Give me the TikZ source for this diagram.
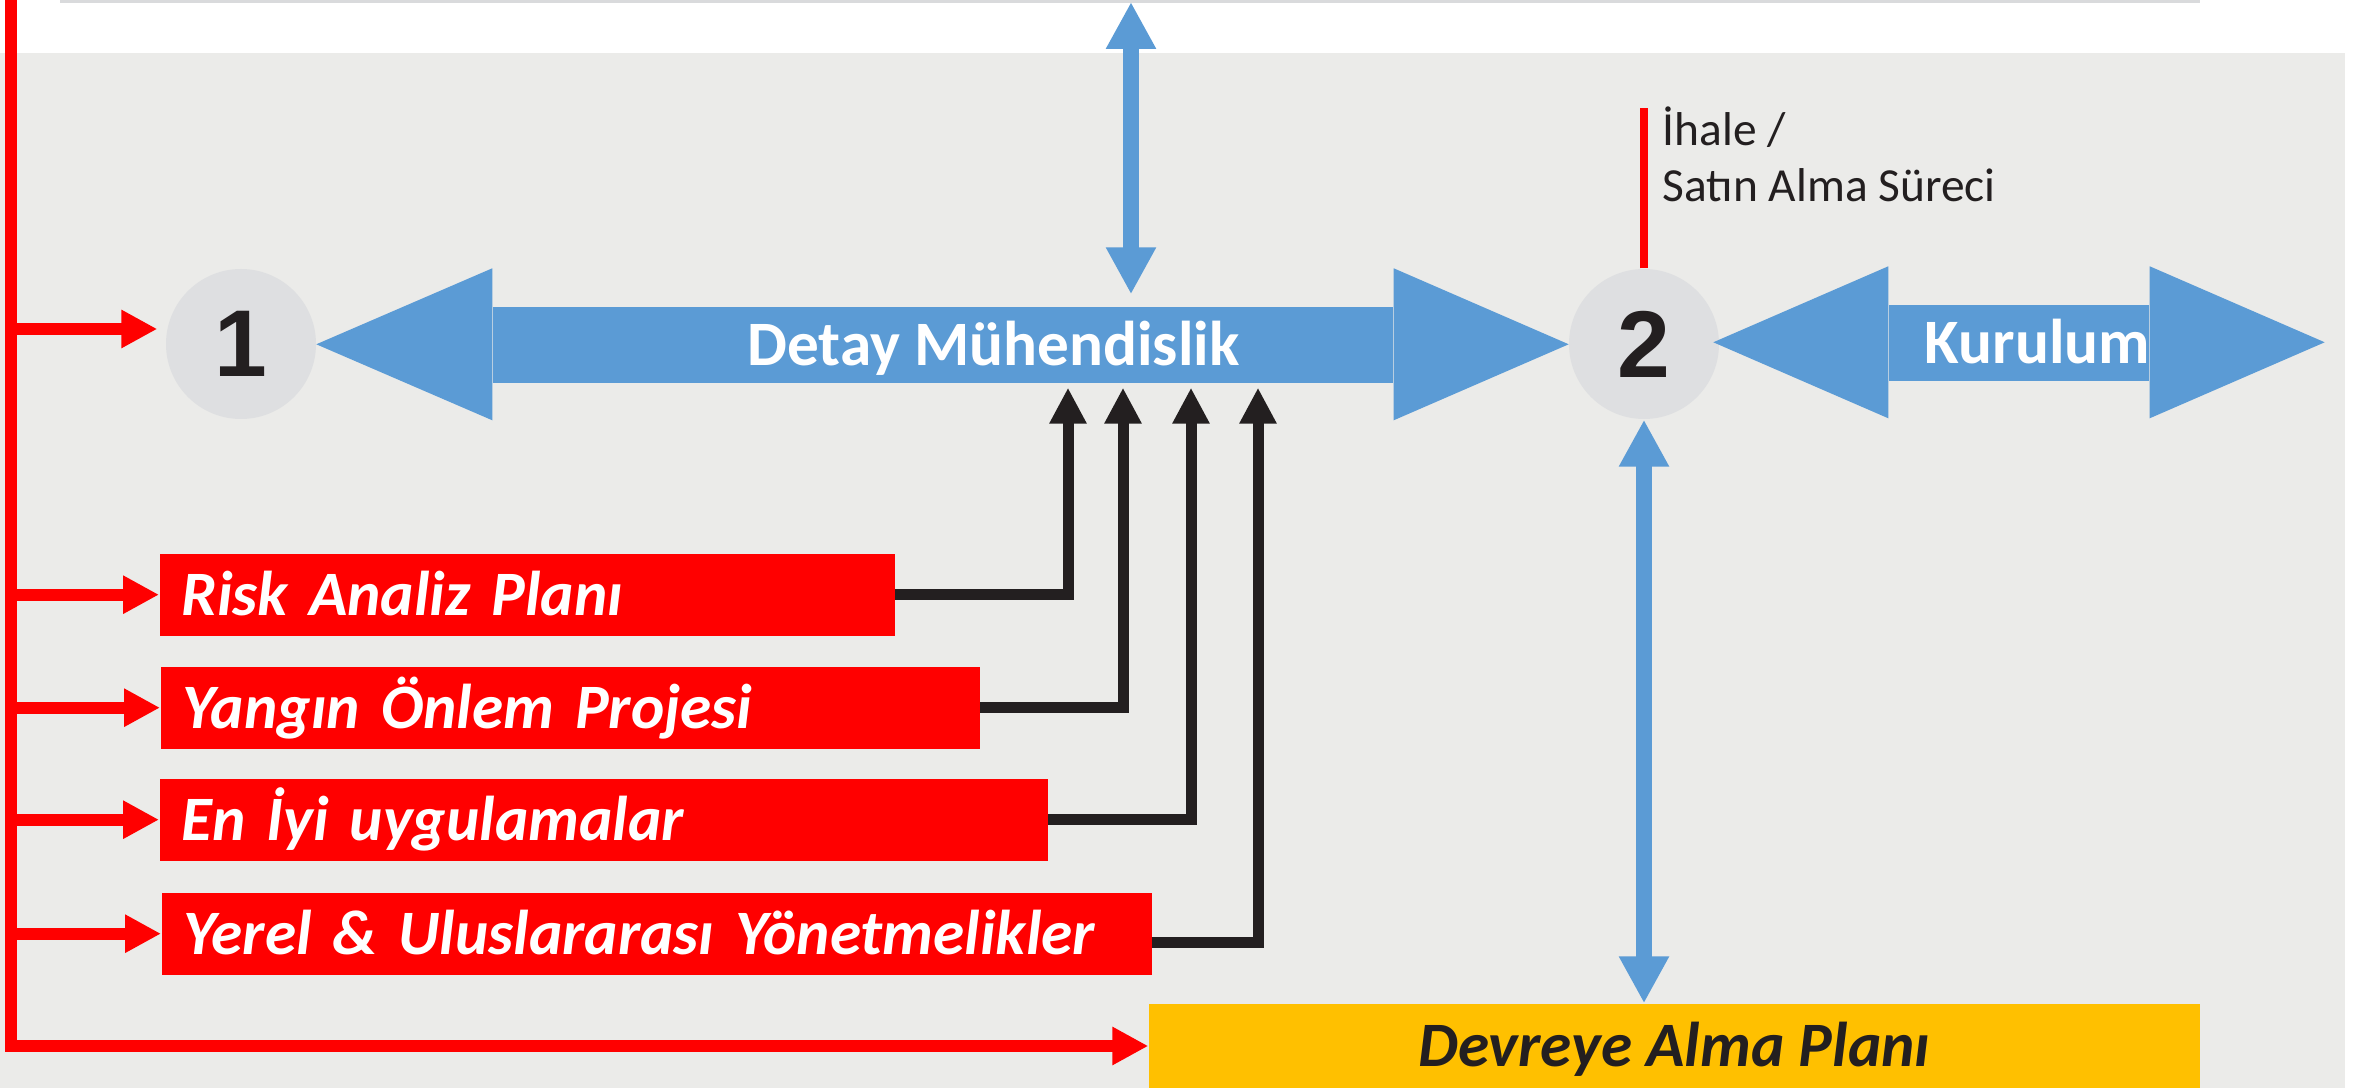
\documentclass[tikz,border=0pt]{standalone}
\usepackage{fontspec}
\setmainfont{Carlito}
\newfontfamily\cijferfont{Liberation Sans}
\usetikzlibrary{arrows.meta}

\definecolor{blauw}{HTML}{5B9BD5}
\definecolor{rood}{HTML}{FF0000}
\definecolor{zwart}{HTML}{231F20}
\definecolor{achtergrond}{HTML}{EBEBE9}
\definecolor{cirkel}{HTML}{DEDFE1}
\definecolor{geel}{HTML}{FFC000}
\definecolor{rand}{HTML}{D9DADC}

\begin{document}
\begin{tikzpicture}
            % Stijlen
            \tikzset{
                rodepijl/.style={-{Triangle[length=0.36cm, width=0.36cm]}, line width=0.12cm, rood},
                zwartepijl/.style={-{Triangle[length=0.36cm, width=0.35cm]}, line width=0.11cm, zwart, shorten >=0.04cm},
                blauwepijl/.style={{Triangle[length=0.47cm, width=0.47cm]}-{Triangle[length=0.47cm, width=0.47cm]}, line width=0.16cm, blauw},
                tekstlijn/.style={text height=14.95pt, text depth=3pt},
                stap/.style={circle, fill=cirkel, minimum size=1.5cm, inner sep=0pt, text=zwart, font=\cijferfont\fontsize{27}{27}\selectfont\bfseries},
                rodebox/.style={fill=rood, text=white, anchor=north west, minimum height=0.82cm, inner xsep=0.22cm, inner ysep=0pt, align=left, tekstlijn, font=\fontsize{18}{20}\selectfont\bfseries\itshape},
                balk/.style={fill=blauw, minimum height=0.76cm, inner sep=0pt},
                balktekst/.style={text=white, inner sep=0pt, tekstlijn, font=\fontsize{18}{20}\selectfont\bfseries}
            }

            % Achtergrond
            \useasboundingbox (0,0) rectangle (23.69,10.88);
            \fill[achtergrond] (0,0) rectangle (23.45,10.35);
            \draw[rand, line width=0.03cm] (0.60,10.865) -- (22.00,10.865);

            % Stappen
            \node[stap] (c1) at (2.41,7.44) {1};
            \node[stap] (c2) at (16.44,7.44) {2};

            % Detay Muhendislik
            \node[balk, minimum width=9.0cm] (dbalk) at (9.43,7.43) {};
            \fill[blauw] ([yshift=0.38cm]dbalk.north west) -- ++(-1.76,-0.76) -- ++(1.76,-0.76) -- cycle;
            \fill[blauw] ([yshift=0.38cm]dbalk.north east) -- ++(1.75,-0.76) -- ++(-1.75,-0.76) -- cycle;
            \node[balktekst] (detay) at (9.935,7.43) {Detay Mühendislik};

            % Kurulum
            \node[balk, minimum width=2.6cm] (kbalk) at (20.19,7.45) {};
            \fill[blauw] ([yshift=0.38cm]kbalk.north west) -- ++(-1.75,-0.76) -- ++(1.75,-0.76) -- cycle;
            \fill[blauw] ([yshift=0.38cm]kbalk.north east) -- ++(1.75,-0.76) -- ++(-1.75,-0.76) -- cycle;
            \node[balktekst] (kurulum) at (20.375,7.45) {Kurulum};

            % Ihale
            \draw[rood, line width=0.08cm] (c2.north) -- ++(0,1.60);
            \node[anchor=south west, inner sep=0pt, align=left, text=zwart, font=\fontsize{13.5}{16.2}\selectfont] (ihale) at (16.62,8.85) {İhale /\\Satın Alma Süreci};

            % Rode boxen
            \node[rodebox, text width=6.91cm] (risk) at (1.59,5.35) {Risk Analiz Planı};
            \node[rodebox, text width=7.75cm] (yangin) at (1.60,4.22) {Yangın Önlem Projesi};
            \node[rodebox, text width=8.44cm] (eniyi) at (1.59,3.10) {En İyi uygulamalar};
            \node[rodebox, text width=9.46cm] (yerel) at (1.61,1.96) {Yerel \& Uluslararası Yönetmelikler};

            % Devreye Alma
            \node[fill=geel, minimum width=10.51cm, minimum height=0.84cm, inner sep=0pt, text=zwart, tekstlijn, font=\fontsize{18}{20}\selectfont\bfseries\itshape] (devreye) at (16.745,0.42) {Devreye Alma Planı};

            % Rode stam
            \coordinate (stam) at (0.11,10.95);
            \coordinate (c1in) at ([yshift=0.15cm]c1.west);
            \draw[rodepijl] (stam) -- (stam |- devreye.west) -- (devreye.west);
            \draw[rodepijl, shorten >=0.08cm] (stam |- c1in) -- (c1in);
            \draw[rodepijl] (stam |- risk.west) -- (risk.west);
            \draw[rodepijl] (stam |- yangin.west) -- (yangin.west);
            \draw[rodepijl] (stam |- eniyi.west) -- (eniyi.west);
            \draw[rodepijl] (stam |- yerel.west) -- (yerel.west);

            % Zwarte pijlen
            \draw[zwartepijl] (risk.east) -| (10.68,0 |- dbalk.south);
            \draw[zwartepijl] (yangin.east) -| (11.23,0 |- dbalk.south);
            \draw[zwartepijl] (eniyi.east) -| (11.91,0 |- dbalk.south);
            \draw[zwartepijl] ([yshift=-0.09cm]yerel.east) -| (12.58,0 |- dbalk.south);

            % Blauwe pijlen
            \coordinate (boven) at (11.31,10.86);
            \draw[blauwepijl, shorten >=0.12cm] (boven) -- (boven |- dbalk.north);
            \draw[blauwepijl] (c2.south) -- (c2.south |- devreye.north);
        \end{tikzpicture}
\end{document}
